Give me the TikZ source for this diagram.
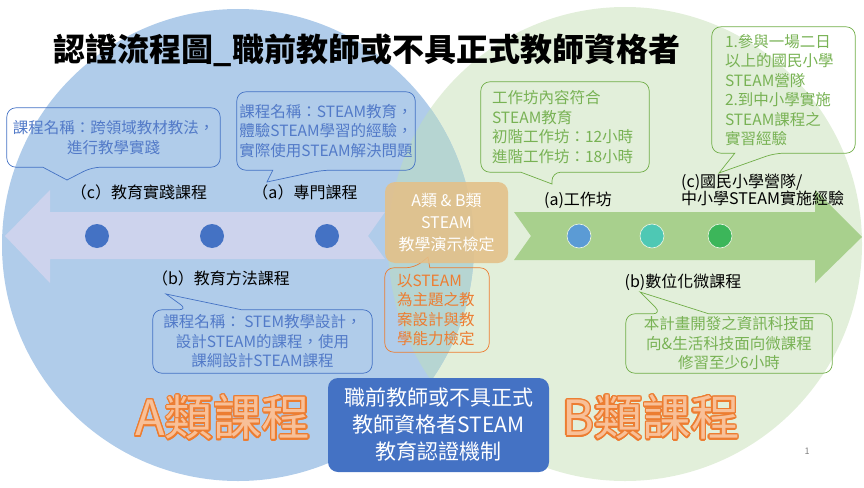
\documentclass[tikz,border=0pt]{standalone}
\usepackage{fontspec}
\setmainfont{Noto Sans CJK TC}
\usepackage[copies]{contour}
\contourlength{1.4pt}
\definecolor{circA}{RGB}{176,204,234}
\definecolor{circB}{RGB}{226,239,218}
\definecolor{lens}{RGB}{182,213,210}
\definecolor{arrA}{RGB}{205,211,237}
\definecolor{arrB}{RGB}{168,208,141}
\definecolor{dkblue}{RGB}{68,114,196}
\definecolor{txtblue}{RGB}{82,122,200}
\definecolor{grn}{RGB}{112,173,71}
\definecolor{txtgrn}{RGB}{120,178,84}
\definecolor{org}{RGB}{237,125,49}
\definecolor{orgbox}{RGB}{228,192,136}
\definecolor{orglight}{RGB}{248,192,152}
\definecolor{dotB}{RGB}{91,155,213}
\definecolor{dotT}{RGB}{78,200,180}
\definecolor{dotG}{RGB}{60,182,90}
\tikzset{dot/.style = {circle,minimum size=24pt,inner sep=0pt}}
\tikzset{lbl/.style = {inner sep=0pt,font=\fontsize{16}{17}\selectfont}}
\tikzset{note/.style = {inner sep=0pt,align=center,font=\fontsize{15.5}{19.5}\selectfont}}
\tikzset{lnote/.style = {inner ysep=0pt,align=left,font=\fontsize{15.5}{19.5}\selectfont}}
\tikzset{blueline/.style = {draw=dkblue,line width=0.7pt}}
\tikzset{grnline/.style = {draw=grn,line width=0.7pt}}
\tikzset{orgline/.style = {draw=org,line width=0.7pt}}
\tikzset{bigtxt/.style = {inner sep=0pt,text=orglight,font=\fontsize{48.5}{50}\selectfont}}
% callout outline, pointer below or above the named node
\newcommand{\tipdown}[5]{\draw[#1] (#5) -- ([xshift=#3]#2.south west) [rounded corners=9pt] -- (#2.south west) -- (#2.north west) -- (#2.north east) -- (#2.south east) -- ([xshift=#4]#2.south west) [sharp corners] -- cycle;}
\newcommand{\tipup}[5]{\draw[#1] (#5) -- ([xshift=#4]#2.north west) [rounded corners=9pt] -- (#2.north east) -- (#2.south east) -- (#2.south west) -- (#2.north west) -- ([xshift=#3]#2.north west) [sharp corners] -- cycle;}

\begin{document}
\begin{tikzpicture}[x=1pt,y=-1pt]
      \useasboundingbox (0,0) rectangle (864,487);
      \fill[circB] (625,244) circle (237);
      \fill[circA] (238,245) circle (236);
      \begin{scope}
        \clip (238,245) circle (236);
        \fill[lens] (625,244) circle (237);
      \end{scope}

      \fill[arrA] (5,236) -- (50,190) -- (50,212) -- (385,212) -- (368,236) -- (385,259) -- (50,259) -- (50,283) -- cycle;
      \fill[arrB] (514,212) -- (815,212) -- (815,190) -- (862,237) -- (815,283) -- (815,260) -- (514,260) -- (531,236) -- cycle;

      \node[font=\fontsize{32}{38}\selectfont\bfseries] (title) at (367,50) {認證流程圖\_職前教師或不具正式教師資格者};

      \node[dot,fill=dkblue] (d1) at (97,236) {};
      \node[dot,fill=dkblue] (d2) at (212,236) {};
      \node[dot,fill=dkblue] (d3) at (327,236) {};
      \node[dot,fill=dotB,draw=white!80!arrB,line width=0.6pt] (e1) at (579,236) {};
      \node[dot,fill=dotT,draw=white!80!arrB,line width=0.6pt] (e2) at (652,236) {};
      \node[dot,fill=dotG,draw=white!80!arrB,line width=0.6pt] (e3) at (720,236) {};

      \node[lbl] (lc) at (139,192) {（c）教育實踐課程};
      \node[lbl] (la) at (305,192) {（a）專門課程};
      \node[lbl] (lb) at (221,278) {（b）教育方法課程};
      \node[lbl] (ra) at (578,200) {(a)工作坊};
      \node[lbl,align=left,anchor=west] (rc) at (681,190) {(c)國民小學營隊/\\中小學STEAM實施經驗};
      \node[lbl] (rb) at (683,282) {(b)數位化微課程};

      \coordinate (tc) at (67,180);
      \coordinate (ta) at (267,182);
      \coordinate (tb) at (166,294);
      \coordinate (tab) at (428,257);
      \coordinate (tw) at (552,184);
      \coordinate (tg) at (719,173);
      \coordinate (tm) at (640,292);

      \node[note,text=txtblue,minimum width=213pt,minimum height=59pt] (nc) at (113.5,137.5) {課程名稱：跨領域教材教法，\\進行教學實踐};
      \tipdown{blueline}{nc}{36pt}{85pt}{tc}
      \node[note,text=txtblue,minimum width=178pt,minimum height=78pt] (na) at (326,131) {課程名稱：STEAM教育，\\體驗STEAM學習的經驗，\\實際使用STEAM解決問題};
      \tipdown{blueline}{na}{36pt}{85pt}{ta}
      \node[note,text=txtblue,minimum width=219pt,minimum height=63pt] (nb) at (262.5,341.5) {課程名稱： STEM教學設計，\\設計STEAM的課程，使用\\課綱設計STEAM課程};
      \tipup{blueline}{nb}{35pt}{89pt}{tb}
      \node[lnote,text=org,text width=80pt,inner xsep=12pt,minimum height=84pt] (no) at (437,310) {以STEAM\\為主題之教\\案設計與教\\學能力檢定};
      \tipup{orgline}{no}{30pt}{45pt}{tab}
      \node[lnote,text=txtgrn,text width=146pt,inner xsep=11pt,minimum height=90pt] (nw) at (565,127) {工作坊內容符合\\STEAM教育\\初階工作坊：12小時\\進階工作坊：18小時};
      \tipdown{grnline}{nw}{40pt}{71pt}{tw}
      \node[lnote,text=txtgrn,text width=117pt,inner xsep=13pt,minimum height=126pt] (ng) at (783.5,90) {1.參與一場二日\\以上的國民小學\\STEAM營隊\\2.到中小學實施\\STEAM課程之\\實習經驗};
      \tipdown{grnline}{ng}{23pt}{63pt}{tg}
      \node[note,text=txtgrn,minimum width=206pt,minimum height=59pt] (nm) at (729,343.5) {本計畫開發之資訊科技面\\向\&生活科技面向微課程\\修習至少6小時};
      \tipup{grnline}{nm}{36pt}{83pt}{tm}

      \node[rounded corners=10pt,fill=orgbox,fill opacity=0.88,text opacity=1,text=white,minimum width=123pt,minimum height=81pt,inner sep=0pt,align=center,font=\fontsize{16}{22}\selectfont] (ab) at (446.5,222.5) {A類 \& B類\\STEAM\\教學演示檢定};
      \node[rounded corners=10pt,fill=dkblue,text=white,minimum width=221pt,minimum height=94pt,inner sep=0pt,align=center,font=\fontsize{21}{27}\selectfont] (ctr) at (438.5,425) {職前教師或不具正式\\教師資格者STEAM\\教育認證機制};

      \node[bigtxt] (ka) at (223,418) {\contour{org}{A類課程}};
      \node[bigtxt] (kb) at (651,418) {\contour{org}{B類課程}};
      \node[text=gray,font=\fontsize{9}{10}\selectfont] (pg) at (807,451) {1};
    \end{tikzpicture}
\end{document}
